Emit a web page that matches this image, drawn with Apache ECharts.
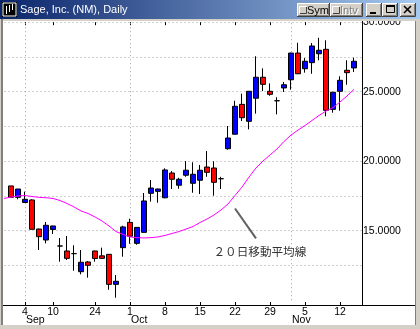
<!DOCTYPE html>
<html><head><meta charset="utf-8">
<script src="https://cdn.jsdelivr.net/npm/echarts@6/dist/echarts.min.js"></script>
<style>html,body{margin:0;padding:0;background:#fff;overflow:hidden}#c{width:420px;height:329px}</style>
</head><body><div id="c"></div>
<script>
// ---- data ----
const tradingDays = [
 '2001-08-30','2001-08-31',
 '2001-09-04','2001-09-05','2001-09-06','2001-09-07','2001-09-10',
 '2001-09-17','2001-09-18','2001-09-19','2001-09-20','2001-09-21',
 '2001-09-24','2001-09-25','2001-09-26','2001-09-27','2001-09-28',
 '2001-10-01','2001-10-02','2001-10-03','2001-10-04','2001-10-05',
 '2001-10-08','2001-10-09','2001-10-10','2001-10-11','2001-10-12',
 '2001-10-15','2001-10-16','2001-10-17','2001-10-18','2001-10-19',
 '2001-10-22','2001-10-23','2001-10-24','2001-10-25','2001-10-26',
 '2001-10-29','2001-10-30','2001-10-31','2001-11-01','2001-11-02',
 '2001-11-05','2001-11-06','2001-11-07','2001-11-08','2001-11-09',
 '2001-11-12','2001-11-13','2001-11-14'
];
const dayBefore = '2001-08-29';
const dayAfter = '2001-11-15';
const opens  = [18.22,17.40,17.03,17.21,15.12,14.33,15.09,13.90,13.54,13.35,12.05,12.75,13.54,13.19,13.30,11.14,13.78,15.60,14.09,14.88,17.69,17.83,17.37,19.15,18.27,18.99,18.41,18.63,19.58,19.51,18.74,20.90,21.94,24.09,22.87,24.53,26.04,25.03,24.35,25.27,25.86,27.78,26.65,27.09,27.73,28.05,23.73,25.03,26.54,26.71];
const closes = [17.40,18.00,17.26,15.10,14.57,15.39,15.34,13.90,13.01,13.35,12.73,12.51,13.00,13.01,11.14,11.36,15.27,14.60,15.24,17.14,18.07,18.00,19.37,18.70,18.70,19.35,19.06,19.35,19.20,18.48,18.74,21.67,23.95,23.13,25.03,26.04,25.53,24.81,24.35,25.50,27.78,26.29,27.19,28.29,27.98,23.66,24.96,25.82,26.37,27.19];
const lows   = [17.40,17.26,17.03,15.10,13.61,14.09,14.76,12.77,12.89,12.12,11.86,11.62,12.77,13.00,10.75,10.18,13.13,14.06,13.99,14.86,17.09,17.01,17.33,18.00,18.02,18.88,17.73,17.64,18.88,17.52,18.00,20.83,21.93,22.89,22.29,23.42,25.05,24.71,23.37,24.98,25.14,26.27,26.37,26.29,27.26,23.23,23.49,23.63,25.50,26.42];
const highs  = [18.22,18.00,17.81,17.26,15.15,15.63,15.36,14.47,14.62,13.95,13.61,12.82,13.56,13.78,13.32,11.81,15.36,15.86,15.26,17.71,18.65,18.02,19.49,19.29,18.81,20.01,19.92,19.73,20.73,19.99,18.88,22.53,24.35,24.86,25.05,27.55,26.68,25.60,24.60,25.70,27.80,28.52,27.42,28.50,28.88,28.70,24.98,26.11,27.26,27.45];
// 20-day moving average, from 2001-08-29 to 2001-11-14
const ma20 = [17.32,17.42,17.50,17.53,17.46,17.40,17.37,17.32,17.17,16.96,16.71,16.42,16.24,15.99,15.70,15.34,14.94,14.73,14.55,14.50,14.48,14.50,14.55,14.66,14.80,14.94,15.12,15.30,15.59,15.84,16.13,16.49,16.92,17.53,18.14,18.86,19.51,20.01,20.45,20.88,21.42,21.88,22.24,22.57,22.93,23.29,23.61,23.86,24.26,24.69,25.17];
const weekLabelDates = ['2001-09-04','2001-09-10','2001-09-24','2001-10-01','2001-10-08','2001-10-15','2001-10-22','2001-10-29','2001-11-05','2001-11-12'];
const monthStarts = ['2001-09-04','2001-10-01','2001-11-01'];
const monthNames = ['Sep','Oct','Nov'];
const titleText = 'Sage, Inc. (NM), Daily';
const maLabel = '２０日移動平均線';
const maPointerFrom = ['2001-10-22', 16.6];
const maPointerTo = ['2001-10-25', 14.45];

// ---- build ----
const dates = [dayBefore].concat(tradingDays, [dayAfter]);
const candleData = dates.map(d => {
  const k = tradingDays.indexOf(d);
  return k < 0 ? ['-','-','-','-'] : [opens[k], closes[k], lows[k], highs[k]];
});
const maData = ma20.concat(['-']);

const FONT = '"Liberation Sans", Arial, sans-serif';
const chart = echarts.init(document.getElementById('c'), null, {renderer:'canvas', width:420, height:329, devicePixelRatio:1});

function button(x, y, w, h) {
  return [
    {type:'rect', shape:{x:x, y:y, width:w, height:h}, style:{fill:'#d4d0c8'}, z:100},
    {type:'polyline', shape:{points:[[x+0.5,y+h-1],[x+0.5,y+0.5],[x+w-1,y+0.5]]}, style:{stroke:'#ffffff', fill:null, lineWidth:1}, z:101},
    {type:'polyline', shape:{points:[[x,y+h-0.5],[x+w-0.5,y+h-0.5],[x+w-0.5,y]]}, style:{stroke:'#404040', fill:null, lineWidth:1}, z:101},
    {type:'polyline', shape:{points:[[x+1,y+h-1.5],[x+w-1.5,y+h-1.5],[x+w-1.5,y+1]]}, style:{stroke:'#808080', fill:null, lineWidth:1}, z:101}
  ];
}
function checkbox(x, y) {
  return [
    {type:'rect', shape:{x:x, y:y, width:8, height:8}, style:{fill:'#d4d0c8'}, z:102},
    {type:'polyline', shape:{points:[[x+0.5,y+7.5],[x+0.5,y+0.5],[x+7.5,y+0.5]]}, style:{stroke:'#ffffff', fill:null}, z:103},
    {type:'polyline', shape:{points:[[x+1,y+7.5],[x+7.5,y+7.5],[x+7.5,y+1]]}, style:{stroke:'#404040', fill:null}, z:103}
  ];
}
const txt = (t, x, y, color, size, extra) => Object.assign({type:'text', z:110, style:{text:t, x:x, y:y, fill:color, font: size+'px '+FONT, fontSize:size, fontFamily:FONT, textVerticalAlign:'middle', verticalAlign:'middle', textAlign:'left', align:'left'}}, extra||{});

const chrome = [].concat(
  [
    {type:'rect', shape:{x:0, y:0, width:420, height:19}, style:{fill:new echarts.graphic.LinearGradient(0,0,1,0,[{offset:0,color:'#0a246a'},{offset:1,color:'#a6caf0'}])}, z:100},
    {type:'rect', shape:{x:0, y:19, width:420, height:2}, style:{fill:'#d4d0c8'}, z:100},
    {type:'rect', shape:{x:0, y:19, width:3, height:310}, style:{fill:'#808080'}, z:100},
    {type:'rect', shape:{x:0, y:19, width:1, height:310}, style:{fill:'#d4d0c8'}, z:100},
    {type:'rect', shape:{x:416, y:19, width:4, height:310}, style:{fill:'#d4d0c8'}, z:100},
    {type:'rect', shape:{x:415, y:21, width:1, height:304}, style:{fill:'#808080'}, z:100},
    {type:'rect', shape:{x:0, y:325, width:420, height:4}, style:{fill:'#d4d0c8'}, z:100},
    {type:'line', shape:{x1:362.5, y1:21, x2:362.5, y2:305}, style:{stroke:'#000', lineWidth:1}, z:99},
    {type:'line', shape:{x1:3, y1:305.5, x2:415, y2:305.5}, style:{stroke:'#000', lineWidth:1}, z:99},
    // icon
    {type:'rect', shape:{x:2, y:2, width:15, height:15}, style:{fill:'#000'}, z:101},
    {type:'rect', shape:{x:3, y:3, width:13, height:13}, style:{fill:null, stroke:'#fff', lineWidth:1}, z:102},
    {type:'line', shape:{x1:6.5, y1:6, x2:6.5, y2:14}, style:{stroke:'#fff', lineWidth:1}, z:102},
    {type:'line', shape:{x1:9.5, y1:5, x2:9.5, y2:12}, style:{stroke:'#fff', lineWidth:1}, z:102},
    {type:'line', shape:{x1:12.5, y1:4, x2:12.5, y2:10}, style:{stroke:'#fff', lineWidth:1}, z:102},
    txt(titleText, 20, 10, '#ffffff', 11)
  ],
  button(297, 3, 33, 14), checkbox(299, 6), [txt('Sym', 307, 10.5, '#000', 11)],
  button(330, 3, 33, 14), checkbox(332, 6), [txt('Intv', 341, 11.5, '#ffffff', 11), txt('Intv', 340, 10.5, '#808080', 11, {z:111})],
  button(366, 3, 16, 14), [{type:'rect', shape:{x:370, y:12, width:6, height:2}, style:{fill:'#000'}, z:105}],
  button(382, 3, 16, 14), [
    {type:'rect', shape:{x:386.5, y:5.5, width:8, height:7}, style:{fill:null, stroke:'#000', lineWidth:1}, z:105},
    {type:'rect', shape:{x:386, y:5, width:9, height:2}, style:{fill:'#000'}, z:105}
  ],
  button(400, 3, 16, 14), [
    {type:'line', shape:{x1:404, y1:6, x2:411, y2:13}, style:{stroke:'#000', lineWidth:1.6}, z:105},
    {type:'line', shape:{x1:411, y1:6, x2:404, y2:13}, style:{stroke:'#000', lineWidth:1.6}, z:105}
  ],
  [txt(maLabel, 213.5, 252, '#333333', 11.6, {style:{text:maLabel, x:213.5, y:252, fill:'#333', font:'11.6px "Noto Sans CJK JP", sans-serif', verticalAlign:'middle', textVerticalAlign:'middle'}})]
);

const weekFn = (i, v) => weekLabelDates.indexOf(v) >= 0;
const option = {
  animation: false,
  backgroundColor: '#ffffff',
  grid: {left: 0.5, width: 364, top: 22.2, height: 278, containLabel: false, outerBoundsMode: 'none'},
  xAxis: [
    {type:'category', data: dates, boundaryGap: true, position:'bottom', offset: 4.8,
     axisLine:{show:false},
     axisTick:{show:true, inside:true, length:3, alignWithLabel:true, interval: weekFn, lineStyle:{color:'#000', width:1}},
     axisLabel:{show:true, interval: weekFn, formatter: v => String(parseInt(v.slice(8), 10)), color:'#000', fontSize:10.5, fontFamily:FONT, margin:1.4},
     splitLine:{show:false}},
    {type:'category', data: dates, boundaryGap: true, position:'bottom', offset: 4.8,
     axisLine:{show:false}, axisTick:{show:false},
     axisLabel:{show:true, interval:(i, v) => monthStarts.indexOf(v) >= 0, formatter: v => monthNames[monthStarts.indexOf(v)] || '', align:'left', padding:[0,0,0,1], color:'#000', fontSize:10.5, fontFamily:FONT, margin:9.3},
     splitLine:{show:false}},
    {type:'category', data: dates, boundaryGap: true, position:'top',
     axisLine:{show:false},
     axisTick:{show:true, inside:true, length:3, alignWithLabel:true, interval: weekFn, lineStyle:{color:'#000', width:1}},
     axisLabel:{show:false}, splitLine:{show:false}}
  ],
  yAxis: {type:'value', position:'right', min:10, max:30, interval:2.5, offset:-2.5, scale:false,
    axisLine:{show:false}, axisTick:{show:false},
    axisLabel:{show:true, showMinLabel:false, formatter: v => (Math.abs(v % 5) < 1e-9 ? v.toFixed(4) : ''), color:'#000', fontSize:10.5, fontFamily:FONT, margin:1},
    splitLine:{show:true, showMinLine:false, lineStyle:{color:'#a0a0a0', width:1, type:[1,3]}}},
  series: [
    {type:'line', name:'month', data: dates.map(() => '-'), z:1, silent:true, symbol:'none',
     markLine:{silent:true, z:1, symbol:['none','none'], label:{show:false}, animation:false,
       lineStyle:{color:'#a0a0a0', width:1, type:[1,3]},
       data: monthStarts.map(d => ({xAxis: d}))}},
    {type:'candlestick', name:'Sage', data: candleData, z:2, silent:true, barWidth:5,
     itemStyle:{color:'#0000ff', color0:'#ff0000', borderColor:'#000000', borderColor0:'#000000', borderColorDoji:'#000000', borderWidth:1}},
    {type:'line', name:'MA20', data: maData, z:3, silent:true, symbol:'none', showSymbol:false, smooth:false,
     lineStyle:{color:'#ff00ff', width:1}, itemStyle:{color:'#ff00ff'},
     markLine:{silent:true, symbol:['none','none'], label:{show:false}, animation:false,
       lineStyle:{color:'#606060', width:2, type:'solid'},
       data:[[{coord: maPointerFrom}, {coord: maPointerTo}]]}}
  ],
  graphic: {elements: chrome}
};
chart.setOption(option);
</script></body></html>
